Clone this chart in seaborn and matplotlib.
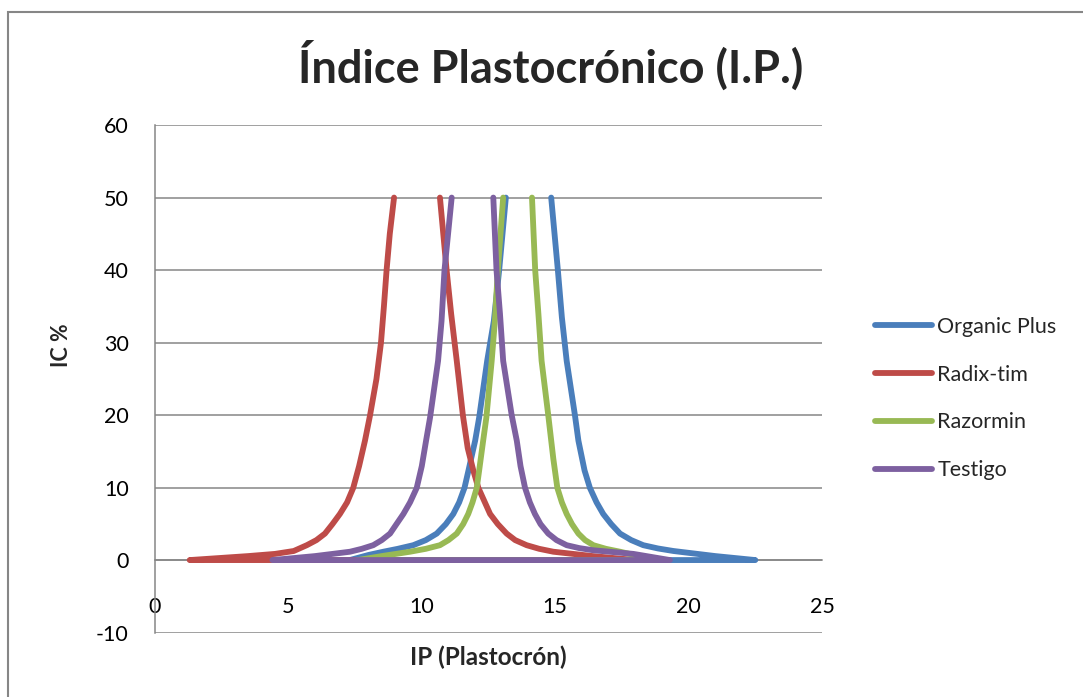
import matplotlib
matplotlib.use("Agg")
import matplotlib.pyplot as plt
import seaborn as sns
import pandas as pd
from matplotlib.patches import Rectangle

# ---------------- data ----------------
# Each series is stored in drawing order: from the left peak down the rising
# branch, along the base (IC ~ 0) and up the falling branch to the right peak.
series_names = ["Organic Plus", "Radix-tim", "Razormin", "Testigo"]

organic_x = [13.15, 12.9, 12.7, 12.45, 12.15, 12.0, 11.75, 11.6, 11.4, 11.18, 10.9, 10.56, 10.15,
             9.68, 9.1, 8.56, 8.0, 7.3,
             22.5, 21.0, 19.43, 18.85, 18.3, 17.85, 17.43, 17.1, 16.8, 16.55, 16.3, 16.1, 15.87,
             15.74, 15.43, 15.25, 15.1, 14.85]
organic_y = [50.0, 40.0, 33.0, 27.5, 19.7, 16.5, 12.4, 10.0, 8.0, 6.4, 5.0, 3.7, 2.8,
             2.1, 1.6, 1.2, 0.75, 0.05,
             0.05, 0.6, 1.3, 1.65, 2.1, 2.8, 3.7, 5.0, 6.4, 8.0, 10.0, 12.4, 16.5,
             20.0, 27.5, 33.5, 40.0, 50.0]

radix_x = [8.96, 8.8, 8.68, 8.58, 8.47, 8.3, 8.06, 7.87, 7.65, 7.43, 7.2, 6.93, 6.65, 6.37, 6.05,
           5.69, 5.2, 4.5, 3.5, 2.5, 1.3,
           18.0, 16.4, 14.93, 14.4, 13.93, 13.5, 13.18, 12.85, 12.56, 12.12, 11.93, 11.72, 11.54,
           11.31, 11.1, 10.93, 10.68]
radix_y = [50.0, 45.0, 40.0, 35.0, 30.0, 25.0, 20.0, 16.5, 13.0, 10.0, 8.0, 6.4, 5.0, 3.7, 2.8,
           2.1, 1.3, 0.9, 0.6, 0.35, 0.05,
           0.05, 0.6, 1.2, 1.6, 2.1, 2.8, 3.7, 5.0, 6.4, 10.0, 12.4, 15.5, 20.0,
           27.5, 34.0, 40.0, 50.0]

razormin_x = [13.05, 12.85, 12.74, 12.62, 12.42, 12.3, 12.15, 12.06, 11.9, 11.74, 11.55, 11.31,
              11.0, 10.68, 10.15, 9.56, 8.5, 7.6,
              18.8, 17.43, 16.9, 16.43, 16.12, 15.87, 15.63, 15.43, 15.25, 15.08, 14.93, 14.74,
              14.49, 14.37, 14.25, 14.13]
razormin_y = [50.0, 40.0, 33.0, 27.5, 19.7, 16.5, 12.4, 10.0, 8.0, 6.4, 5.0, 3.7,
              2.8, 2.1, 1.6, 1.2, 0.6, 0.05,
              0.05, 1.2, 1.6, 2.1, 2.8, 3.7, 5.0, 6.4, 8.0, 10.0, 14.0, 20.0,
              27.5, 34.0, 40.0, 50.0]

testigo_x = [11.12, 10.85, 10.74, 10.61, 10.31, 10.16, 10.0, 9.81, 9.56, 9.31, 9.05, 8.81, 8.5,
             8.18, 7.75, 7.31, 6.0, 4.4,
             19.3, 17.93, 16.43, 15.9, 15.43, 15.05, 14.74, 14.45, 14.24, 14.05, 13.87, 13.7,
             13.56, 13.37, 13.05, 12.93, 12.8, 12.68]
testigo_y = [50.0, 40.0, 33.0, 27.5, 19.7, 16.5, 13.0, 10.0, 8.0, 6.4, 5.0, 3.7, 2.8,
             2.1, 1.6, 1.2, 0.6, 0.05,
             0.05, 0.9, 1.4, 1.7, 2.1, 2.8, 3.7, 5.0, 6.4, 8.0, 10.0, 13.0,
             16.5, 20.0, 27.5, 34.0, 40.0, 50.0]

x_ticks = [0, 5, 10, 15, 20, 25]
y_ticks = [-10, 0, 10, 20, 30, 40, 50, 60]

title = "Índice Plastocrónico (I.P.)"
x_label = "IP (Plastocrón)"
y_label = "IC %"

# ---------------- styling ----------------
colors = ["#4A7EBB", "#BE4B48", "#98B954", "#7D60A0"]
grid_color = "#868686"

sns.set_theme(style="white")
plt.rcParams["font.family"] = ["Lato", "DejaVu Sans"]

W, H = 1083, 697
fig = plt.figure(figsize=(W / 100, H / 100), dpi=100)
ax = fig.add_axes([155 / W, 1 - 633 / H, (822 - 155) / W, (633 - 125) / H])

frames = []
for name, xs, ys in [(series_names[0], organic_x, organic_y),
                     (series_names[1], radix_x, radix_y),
                     (series_names[2], razormin_x, razormin_y),
                     (series_names[3], testigo_x, testigo_y)]:
    d = pd.DataFrame({"IP": xs, "IC": ys})
    d["serie"] = name
    frames.append(d)
df = pd.concat(frames, ignore_index=True)

LW = 4.2
for name, col in zip(series_names, colors):
    sub = df[df["serie"] == name]
    sns.lineplot(data=sub, x="IP", y="IC", sort=False, estimator=None, ax=ax,
                 color=col, linewidth=LW, label=name, solid_capstyle="round",
                 solid_joinstyle="round")

ax.set_xlim(0, 25)
ax.set_ylim(-10, 60)
ax.set_yticks(y_ticks)
ax.set_xticks(x_ticks)
ax.set_yticklabels([str(v) for v in y_ticks])
ax.set_xticklabels([str(v) for v in x_ticks])

# horizontal gridlines
for v in y_ticks:
    ax.axhline(v, color=grid_color, linewidth=1.1, zorder=0)

for s in ["top", "right"]:
    ax.spines[s].set_visible(False)
ax.spines["left"].set_color(grid_color)
ax.spines["left"].set_linewidth(1.1)
ax.spines["bottom"].set_position(("data", 0))
ax.spines["bottom"].set_color(grid_color)
ax.spines["bottom"].set_linewidth(1.1)
ax.spines["bottom"].set_zorder(0)

ax.tick_params(axis="y", length=0, pad=19, labelsize=15.5, colors="black")
ax.tick_params(axis="x", length=0, pad=26, labelsize=15.5, colors="black")

ax.set_xlabel("")
ax.set_ylabel("")
fig.text(488 / W, 1 - 657 / H, x_label, ha="center", va="center",
         fontsize=17.5, fontweight="bold")
fig.text(62 / W, 1 - 345 / H, y_label, ha="center", va="center",
         fontsize=15.5, fontweight="bold", rotation=90)
fig.text(551 / W, 1 - 66 / H, title, ha="center", va="center",
         fontsize=32.5, fontweight="bold")

leg = ax.legend(loc="center left", bbox_to_anchor=(875 / W, 1 - 398.5 / H),
                bbox_transform=fig.transFigure, frameon=False, fontsize=15.5,
                handlelength=2.65, handletextpad=0.25, labelspacing=1.3,
                borderpad=0, borderaxespad=0)
for h in leg.get_lines():
    h.set_linewidth(LW)

# chart border (cropped on the right and bottom in the reference)
fig.patches.append(Rectangle((8 / W, -0.2), 1.5, 1 - 12 / H + 0.2,
                             transform=fig.transFigure, fill=False,
                             edgecolor=grid_color, linewidth=1.5))

fig.savefig("out.png", dpi=100, facecolor="white")
